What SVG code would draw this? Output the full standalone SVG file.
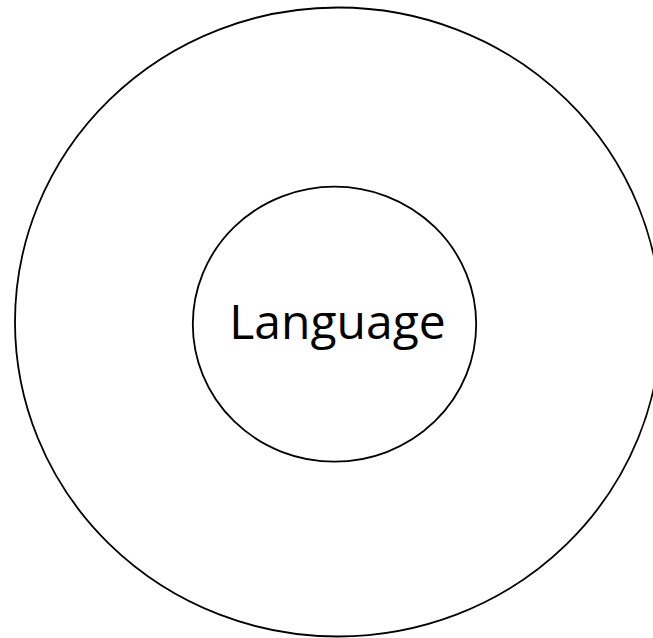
<svg xmlns="http://www.w3.org/2000/svg" width="653" height="638" viewBox="0 0 653 638">
<style>
.ring{fill:none;stroke:#000;stroke-width:1.8}
.lbl{font-family:"Open Sans","Liberation Sans",sans-serif;font-size:48px;fill:#000;text-anchor:middle}
</style>
<rect width="653" height="638" fill="#fff"/>
<g id="outer"><ellipse class="ring" cx="338" cy="322" rx="323" ry="314.5"/></g>
<g id="language">
<ellipse class="ring" cx="334.5" cy="324.2" rx="141.7" ry="137.5"/>
<text class="lbl" x="337.5" y="339.3">Language</text>
</g>
<g id="connectors"/>
</svg>
